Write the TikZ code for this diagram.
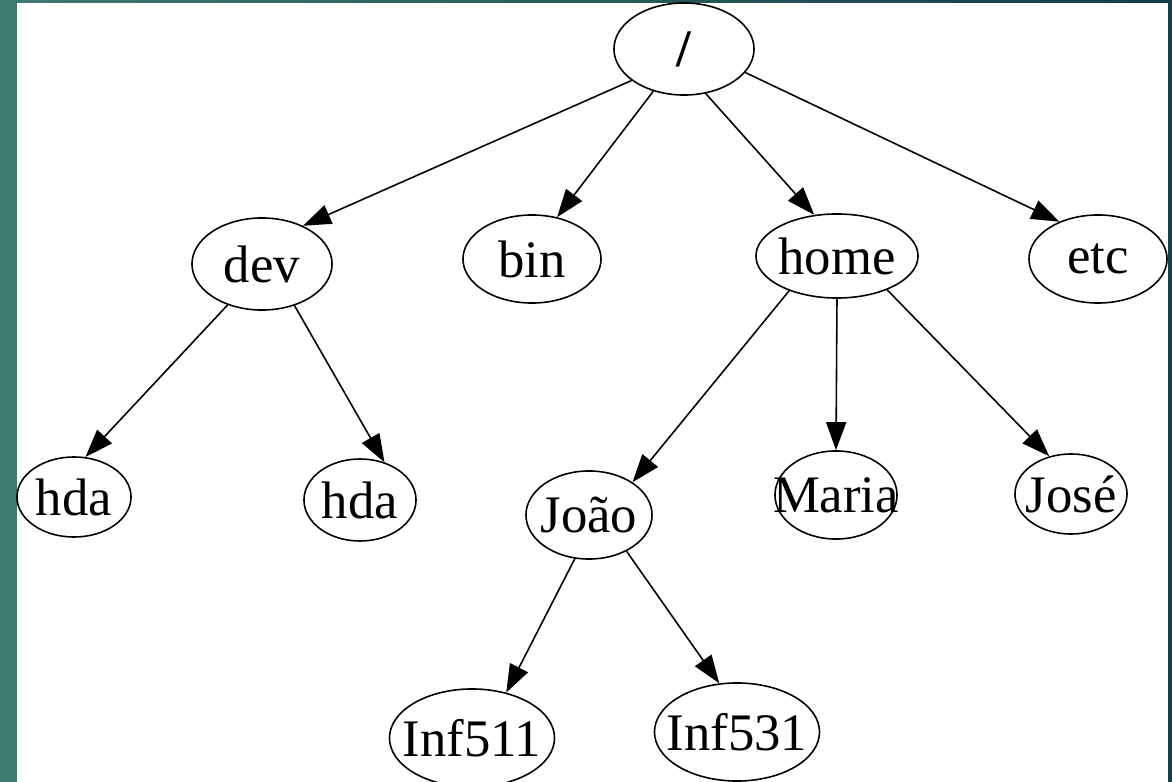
\documentclass[tikz,border=0pt]{standalone}
\usepackage{fontspec}
\setmainfont{Liberation Serif}
\usetikzlibrary{shapes.geometric,arrows.meta}
\definecolor{frameL}{HTML}{3C7A6E}
\definecolor{frameR}{HTML}{143C4A}
\begin{document}
\begin{tikzpicture}[x=0.01cm,y=-0.01cm,
  nd/.style={ellipse,draw=black,line width=0.45pt,inner sep=0pt,
    font=\fontsize{15}{18}\selectfont},
  edge/.style={line width=0.45pt,-{Triangle[length=0.28cm,width=0.2cm]}}]
% slide frame
\useasboundingbox (0,0) rectangle (1172,782);
\shade[left color=frameL,right color=frameR] (0,0) rectangle (1172,782);
\fill[white] (17,3) rectangle (1168,782);
% directory nodes (labels boxed at zero width so the ellipse keeps its set size)
\node[nd,minimum width=1.40cm,minimum height=0.92cm] (root) at (684,49) {\makebox[0pt]{\textbf{/}}};
\node[nd,minimum width=1.40cm,minimum height=0.92cm] (dev) at (262,264) {\makebox[0pt]{dev}};
\node[nd,minimum width=1.38cm,minimum height=0.88cm] (bin) at (532,259) {\makebox[0pt]{bin}};
\node[nd,minimum width=1.62cm,minimum height=0.84cm] (home) at (837,256) {\makebox[0pt]{home}};
\node[nd,minimum width=1.38cm,minimum height=0.88cm] (etc) at (1098,259) {\makebox[0pt]{etc}};
\node[nd,minimum width=1.14cm,minimum height=0.80cm] (hdaA) at (74,497) {\makebox[0pt]{hda}};
\node[nd,minimum width=1.12cm,minimum height=0.82cm] (hdaB) at (360,500) {\makebox[0pt]{hda}};
\node[nd,minimum width=1.26cm,minimum height=0.88cm] (joao) at (589,515) {\makebox[0pt]{João}};
\node[nd,minimum width=1.22cm,minimum height=0.88cm] (maria) at (836,495) {\makebox[0pt]{Maria}};
\node[nd,minimum width=1.12cm,minimum height=0.80cm] (jose) at (1071,494) {\makebox[0pt]{José}};
\node[nd,minimum width=1.65cm,minimum height=0.98cm] (infA) at (472,738) {\makebox[0pt]{Inf511}};
\node[nd,minimum width=1.65cm,minimum height=0.98cm] (infB) at (737,732) {\makebox[0pt]{Inf531}};
% links
\draw[edge] (root.211) -- (dev.43);
\draw[edge] (root.234) -- (bin.59);
\draw[edge] (root.-64) -- (home.119);
\draw[edge] (root.-21) -- (etc.136);
\draw[edge] (dev.230) -- (hdaA.74);
\draw[edge] (dev.-52) -- (hdaB.57);
\draw[edge] (home.216) -- (joao.37);
\draw[edge] (home.south) -- (maria.north);
\draw[edge] (home.-34) -- (jose.120);
\draw[edge] (joao.252) -- (infA.53);
\draw[edge] (joao.-44) -- (infB.110);
\end{tikzpicture}
\end{document}
